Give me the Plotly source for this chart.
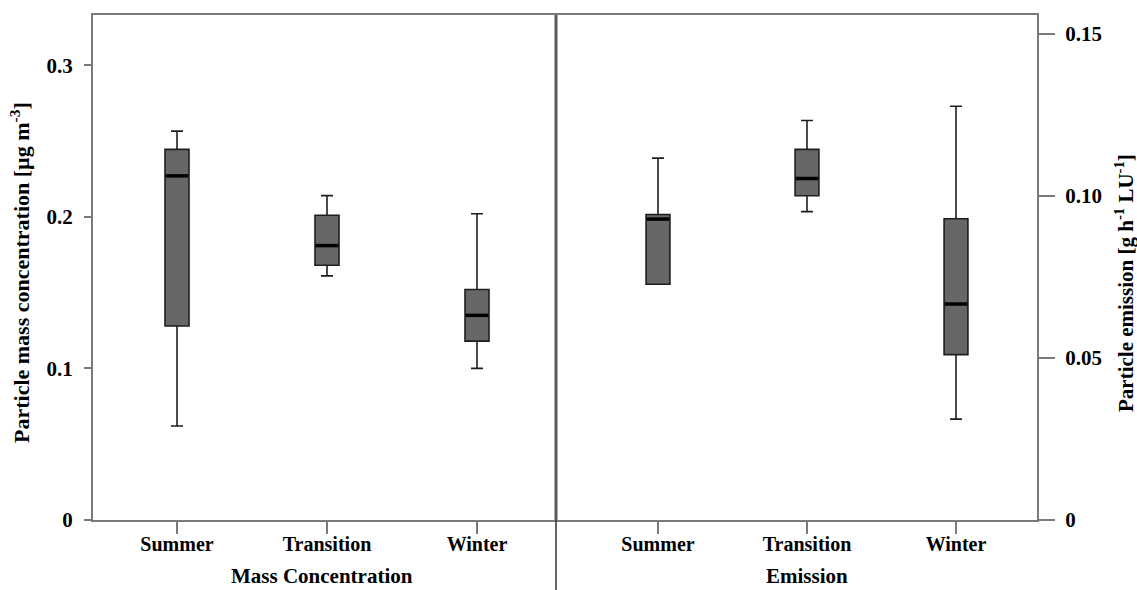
import plotly.graph_objects as go

# ---------------- data ----------------
seasons = ["Summer", "Transition", "Winter"]
positions = [0, 1, 2]

conc_lower = [0.062, 0.161, 0.100]
conc_q1 = [0.128, 0.168, 0.118]
conc_median = [0.227, 0.181, 0.135]
conc_q3 = [0.2445, 0.201, 0.152]
conc_upper = [0.2565, 0.214, 0.202]

em_lower = [0.0727, 0.0951, 0.0311]
em_q1 = [0.0727, 0.1000, 0.0510]
em_median = [0.0928, 0.1053, 0.0666]
em_q3 = [0.0942, 0.1143, 0.0929]
em_upper = [0.1116, 0.1232, 0.1276]

conc_ticks = [0, 0.1, 0.2, 0.3]
conc_ticktext = ["0", "0.1", "0.2", "0.3"]
em_ticks = [0, 0.05, 0.10, 0.15]
em_ticktext = ["0", "0.05", "0.10", "0.15"]

# ---------------- style ----------------
W, H = 1137, 590
FONT = "Liberation Serif, Times New Roman, serif"
BOX_FILL = "#676767"
BOX_LINE = "#1e1e1e"
AXIS_COLOR = "#7a7a7a"
BOX_W = 0.16

def px_x(p):
    return p / W

def px_y(p):
    return 1 - p / H

left_dom = [px_x(93), px_x(556)]
right_dom = [px_x(556), px_x(1037)]
y_dom = [px_y(520), px_y(15)]

fig = go.Figure()

def add_boxes(lower, q1, med, q3, upper, xa, ya):
    for i, pos in enumerate(positions):
        fig.add_trace(go.Box(
            x=[pos], lowerfence=[lower[i]], q1=[q1[i]], median=[med[i]],
            q3=[q3[i]], upperfence=[upper[i]],
            width=BOX_W, whiskerwidth=0.5,
            fillcolor=BOX_FILL, line=dict(color=BOX_LINE, width=1.6),
            boxpoints=False, showlegend=False, xaxis=xa, yaxis=ya,
            hoverinfo="skip",
        ))
        fig.add_trace(go.Scatter(
            x=[pos - BOX_W / 2 + 0.005, pos + BOX_W / 2 - 0.005],
            y=[med[i], med[i]], mode="lines",
            line=dict(color="black", width=3.5),
            showlegend=False, xaxis=xa, yaxis=ya, hoverinfo="skip",
        ))

add_boxes(conc_lower, conc_q1, conc_median, conc_q3, conc_upper, "x", "y")
add_boxes(em_lower, em_q1, em_median, em_q3, em_upper, "x2", "y2")

xtickfont = dict(family=FONT, size=20, color="black", weight="bold")
ytickfont = dict(family=FONT, size=21, color="black", weight="bold")

fig.update_layout(
    width=W, height=H, autosize=False,
    margin=dict(l=0, r=0, t=0, b=0, autoexpand=False),
    paper_bgcolor="white", plot_bgcolor="white",
    showlegend=False,
    xaxis=dict(
        domain=left_dom, range=[(93 - 177) / 150, (556 - 177) / 150],
        tickvals=positions, ticktext=seasons, tickfont=xtickfont,
        ticks="outside", ticklen=12, tickwidth=1.5, tickcolor=AXIS_COLOR,
        ticklabelstandoff=-7,
        showline=True, linecolor=AXIS_COLOR, linewidth=2, mirror=True,
        showgrid=False, zeroline=False, anchor="y",
    ),
    yaxis=dict(
        domain=y_dom, range=[0, 505 / 1516],
        tickvals=conc_ticks, ticktext=conc_ticktext, tickfont=ytickfont,
        ticks="outside", ticklen=7, tickwidth=1.5, tickcolor=AXIS_COLOR,
        ticklabelstandoff=7,
        showline=True, linecolor=AXIS_COLOR, linewidth=2,
        showgrid=False, zeroline=False, anchor="x",
    ),
    xaxis2=dict(
        domain=right_dom, range=[(556 - 658) / 149, (1037 - 658) / 149],
        tickvals=positions, ticktext=seasons, tickfont=xtickfont,
        ticks="outside", ticklen=12, tickwidth=1.5, tickcolor=AXIS_COLOR,
        ticklabelstandoff=-7,
        showline=True, linecolor=AXIS_COLOR, linewidth=2, mirror=True,
        showgrid=False, zeroline=False, anchor="y2",
    ),
    yaxis2=dict(
        domain=y_dom, range=[0, 505 / 3243], side="right",
        tickvals=em_ticks, ticktext=em_ticktext, tickfont=ytickfont,
        ticks="outside", ticklen=16, tickwidth=1.5, tickcolor=AXIS_COLOR,
        ticklabelstandoff=6,
        showline=True, linecolor=AXIS_COLOR, linewidth=2,
        showgrid=False, zeroline=False, anchor="x2",
    ),
)

# divider between panels
fig.add_shape(type="line", xref="paper", yref="paper",
              x0=px_x(556), x1=px_x(556), y0=px_y(520), y1=px_y(15),
              line=dict(color="#5a5a5a", width=3))
fig.add_shape(type="line", xref="paper", yref="paper",
              x0=px_x(556), x1=px_x(556), y0=0, y1=px_y(520),
              line=dict(color="#333333", width=1.5))

# axis titles
title_font = dict(family=FONT, size=21, color="black")
fig.add_annotation(text="<b>Mass Concentration</b>", xref="paper", yref="paper",
                   x=px_x(322), y=0, xanchor="center", yanchor="bottom",
                   showarrow=False, font=title_font)
fig.add_annotation(text="<b>Emission</b>", xref="paper", yref="paper",
                   x=px_x(807), y=0, xanchor="center", yanchor="bottom",
                   showarrow=False, font=title_font)
fig.add_annotation(text="<b>Particle mass concentration [µg m<sup>-3</sup>]</b>",
                   xref="paper", yref="paper", x=px_x(20), y=px_y(273),
                   xanchor="center", yanchor="middle",
                   textangle=-90, showarrow=False,
                   font=dict(family=FONT, size=22, color="black"))
fig.add_annotation(text="<b>Particle emission [g h<sup>-1</sup> LU<sup>-1</sup>]</b>",
                   xref="paper", yref="paper", x=px_x(1124), y=px_y(283),
                   xanchor="center", yanchor="middle",
                   textangle=-90, showarrow=False,
                   font=dict(family=FONT, size=21, color="black"))

fig.write_html("out.html", config={"responsive": False},
               default_width="1137px", default_height="590px")
